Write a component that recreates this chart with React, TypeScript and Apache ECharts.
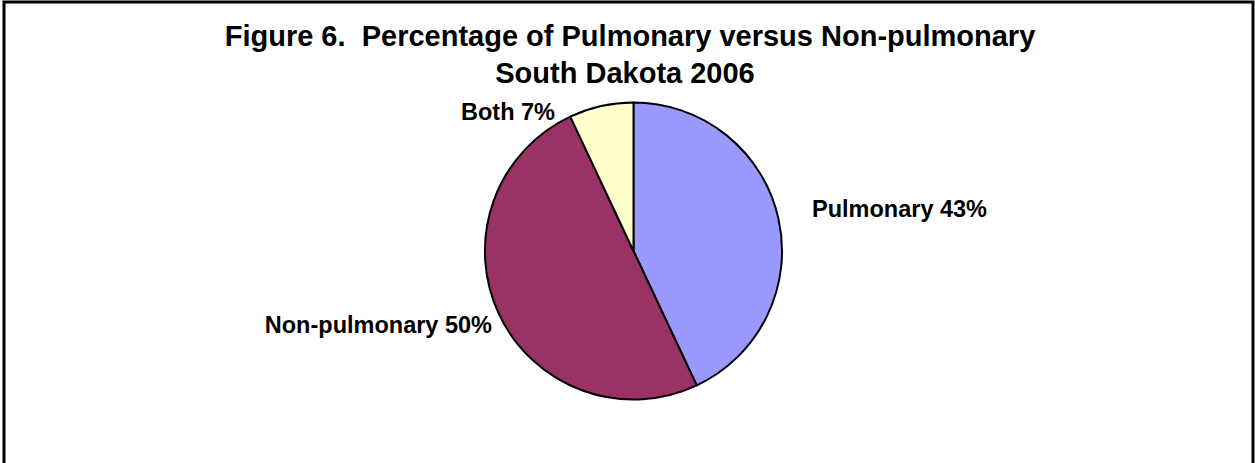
import React, { useEffect, useRef } from "react";
import * as echarts from "echarts";

const categories = ["Pulmonary", "Non-pulmonary", "Both"];
const percentages = [43, 50, 7];
const sliceColors = ["#9999FF", "#993366", "#FFFFCC"];
const titleLines = [
  "Figure 6.  Percentage of Pulmonary versus Non-pulmonary",
  "South Dakota 2006",
];

// layout only
const titleAnchors = [
  { left: 630, top: 18 },
  { left: 625, top: 55 },
];
const labelAnchors = [
  { x: 812, y: 209, align: "left" },
  { x: 492, y: 325, align: "right" },
  { x: 555, y: 112, align: "right" },
];

const FONT = "'Liberation Sans', Arial, Helvetica, sans-serif";

export default function App() {
  const ref = useRef<HTMLDivElement>(null);

  useEffect(() => {
    if (!ref.current) return;
    const chart = echarts.init(ref.current, null, { renderer: "svg" });
    chart.setOption({
      animation: false,
      backgroundColor: "#ffffff",
      title: titleLines.map((t, i) => ({
        text: t,
        left: titleAnchors[i].left,
        top: titleAnchors[i].top,
        textAlign: "center",
        padding: 0,
        textStyle: {
          fontFamily: FONT,
          fontWeight: "bold",
          fontSize: 29,
          lineHeight: 36,
          color: "#000",
        },
      })),
      graphic: [
        {
          type: "rect",
          shape: { x: 4, y: 2, width: 1249, height: 480 },
          style: { fill: "none", stroke: "#000", lineWidth: 3 },
          silent: true,
        },
      ],
      series: [
        {
          type: "pie",
          center: [633.5, 251],
          radius: 148.5,
          startAngle: 90,
          clockwise: true,
          avoidLabelOverlap: false,
          itemStyle: { borderColor: "#000", borderWidth: 2 },
          label: {
            show: true,
            position: "outside",
            formatter: "{b} {c}%",
            fontFamily: FONT,
            fontWeight: "bold",
            fontSize: 23.5,
            color: "#000",
          },
          labelLine: { show: false },
          labelLayout: (params: any) => {
            const a = labelAnchors[params.dataIndex];
            return { x: a.x, y: a.y, align: a.align, verticalAlign: "middle" };
          },
          emphasis: { disabled: true },
          data: categories.map((name, i) => ({
            name,
            value: percentages[i],
            itemStyle: { color: sliceColors[i] },
          })),
        },
      ],
    });
    return () => chart.dispose();
  }, []);

  return (
    <div
      ref={ref}
      style={{ position: "fixed", left: 0, top: 0, width: 1255, height: 463 }}
    />
  );
}
